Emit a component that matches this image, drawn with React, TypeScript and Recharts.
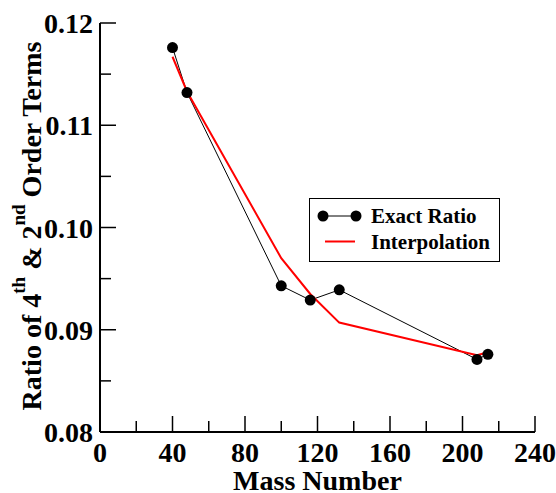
import { LineChart, Line, XAxis, YAxis, Legend } from "recharts";

const massNumbers = [40, 48, 100, 116, 132, 208, 214];
const exactRatio = [0.1176, 0.1132, 0.0943, 0.0929, 0.0939, 0.0871, 0.0876];
const interpolation = [0.1167, 0.1133, 0.097, 0.0935, 0.0907, 0.0875, 0.0878];

const xTicks = [0, 20, 40, 60, 80, 100, 120, 140, 160, 180, 200, 220, 240];
const yTicks = [0.08, 0.085, 0.09, 0.095, 0.1, 0.105, 0.11, 0.115, 0.12];

const data = massNumbers.map((m, i) => ({
  mass: m,
  exact: exactRatio[i],
  interp: interpolation[i],
}));

const FONT = '"Liberation Serif", "Times New Roman", serif';

const isMajorX = (v: number) => v % 40 === 0;
const isMajorY = (v: number) => Math.round(v * 1000) % 10 === 0;

const BottomTick = (props: any) => {
  const { x, y, payload } = props;
  const major = isMajorX(payload.value);
  return (
    <g>
      <line x1={x} x2={x} y1={y} y2={y - (major ? 16 : 11)} stroke="#000" strokeWidth={1.5} />
      {major && (
        <text x={x} y={y + 30} textAnchor="middle" fontFamily={FONT} fontWeight="bold" fontSize={28} fill="#000">
          {payload.value}
        </text>
      )}
    </g>
  );
};

const TopTick = (props: any) => {
  const { x, y, payload } = props;
  const major = isMajorX(payload.value);
  return <line x1={x} x2={x} y1={y} y2={y + (major ? 16 : 11)} stroke="#000" strokeWidth={1.5} />;
};

const LeftTick = (props: any) => {
  const { x, y, payload } = props;
  const major = isMajorY(payload.value);
  return (
    <g>
      <line x1={x} x2={x + (major ? 16 : 11)} y1={y} y2={y} stroke="#000" strokeWidth={1.5} />
      {major && (
        <text x={x - 7} y={y + 10} textAnchor="end" fontFamily={FONT} fontWeight="bold" fontSize={28} fill="#000">
          {payload.value.toFixed(2)}
        </text>
      )}
    </g>
  );
};

const RightTick = (props: any) => {
  const { x, y, payload } = props;
  const major = isMajorY(payload.value);
  return <line x1={x} x2={x - (major ? 16 : 11)} y1={y} y2={y} stroke="#000" strokeWidth={1.5} />;
};

const YTitle = () => (
  <text
    transform="translate(41, 226) rotate(-90)"
    textAnchor="middle"
    fontFamily={FONT}
    fontWeight="bold"
    fontSize={28}
    fill="#000"
  >
    Ratio of 4
    <tspan dy={-16} fontSize={19}>th</tspan>
    <tspan dy={16}> &amp; 2</tspan>
    <tspan dy={-16} fontSize={19}>nd</tspan>
    <tspan dy={16}> Order Terms</tspan>
  </text>
);

const XTitle = () => (
  <text x={317.5} y={490} textAnchor="middle" fontFamily={FONT} fontWeight="bold" fontSize={28} fill="#000">
    Mass Number
  </text>
);

const LegendBox = (props: any) => {
  const items = props.payload || [];
  return (
    <div
      style={{
        width: 191,
        height: 64,
        boxSizing: "border-box",
        border: "1.5px solid #000",
        background: "#fff",
        position: "relative",
      }}
    >
      <svg width={188} height={61} style={{ position: "absolute", left: 0, top: 0 }}>
        {items.map((it: any, i: number) => {
          const cy = 17 + i * 25.5;
          const isExact = it.dataKey === "exact";
          return (
            <g key={it.value}>
              {isExact ? (
                <>
                  <line x1={13} x2={46} y1={cy} y2={cy} stroke="#000" strokeWidth={1} />
                  <circle cx={13} cy={cy} r={5.5} fill="#000" />
                  <circle cx={46} cy={cy} r={5.5} fill="#000" />
                </>
              ) : (
                <line x1={15} x2={45} y1={cy} y2={cy} stroke="red" strokeWidth={2} />
              )}
              <text x={61} y={cy + 7} fontFamily={FONT} fontWeight="bold" fontSize={21} fill="#000">
                {it.value}
              </text>
            </g>
          );
        })}
      </svg>
    </div>
  );
};

export default function App() {
  return (
    <div style={{ position: "absolute", left: 0, top: 0, background: "#fff" }}>
      <LineChart width={556} height={493} data={data} margin={{ top: 23, right: 21, bottom: 0, left: 0 }}>
        <XAxis
          dataKey="mass"
          type="number"
          domain={[0, 240]}
          ticks={xTicks}
          interval={0}
          height={61}
          tickSize={0}
          tickMargin={0}
          tick={<BottomTick />}
          axisLine={{ stroke: "#000", strokeWidth: 2 }}
          label={<XTitle />}
        />
        <XAxis
          xAxisId="top"
          orientation="top"
          type="number"
          domain={[0, 240]}
          ticks={xTicks}
          interval={0}
          height={0}
          tickSize={0}
          tickMargin={0}
          tick={<TopTick />}
          axisLine={{ stroke: "#000", strokeWidth: 2 }}
        />
        <YAxis
          type="number"
          domain={[0.08, 0.12]}
          ticks={yTicks}
          interval={0}
          width={100}
          tickSize={0}
          tickMargin={0}
          tick={<LeftTick />}
          axisLine={{ stroke: "#000", strokeWidth: 2 }}
          label={<YTitle />}
        />
        <YAxis
          yAxisId="right"
          orientation="right"
          type="number"
          domain={[0.08, 0.12]}
          ticks={yTicks}
          interval={0}
          width={0}
          tickSize={0}
          tickMargin={0}
          tick={<RightTick />}
          axisLine={{ stroke: "#000", strokeWidth: 2 }}
        />
        <Legend
          layout="horizontal"
          verticalAlign="middle"
          align="center"
          wrapperStyle={{ left: 309, top: 198, width: 191, height: 64 }}
          content={<LegendBox />}
        />
        <Line
          dataKey="exact"
          name="Exact Ratio"
          stroke="#000"
          strokeWidth={1}
          dot={{ r: 5.5, fill: "#000", stroke: "#000", strokeWidth: 0 }}
          activeDot={false}
          isAnimationActive={false}
        />
        <Line
          dataKey="interp"
          name="Interpolation"
          stroke="red"
          strokeWidth={2}
          dot={false}
          activeDot={false}
          isAnimationActive={false}
        />
      </LineChart>
    </div>
  );
}
